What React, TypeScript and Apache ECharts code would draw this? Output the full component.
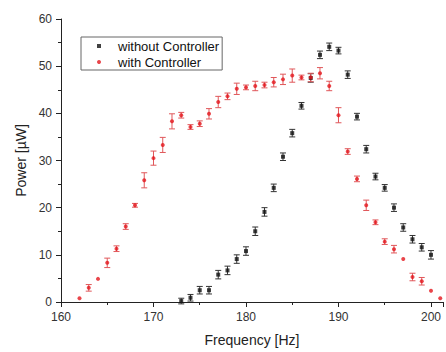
import React, { useEffect, useRef } from "react";
import * as echarts from "echarts";

const freqBlack = [173, 174, 175, 176, 177, 178, 179, 180, 181, 182, 183, 184, 185, 186, 187, 188, 189, 190, 191, 192, 193, 194, 195, 196, 197, 198, 199, 200];
const powerBlack = [0.2, 0.9, 2.5, 2.5, 5.8, 6.7, 9.1, 10.8, 15.0, 19.1, 24.2, 30.8, 35.8, 41.6, 47.5, 52.4, 54.1, 53.3, 48.2, 39.3, 32.4, 26.6, 24.2, 20.0, 15.8, 13.3, 11.6, 10.0];
const errBlack = [0.6, 0.7, 0.8, 0.8, 0.9, 0.9, 0.9, 0.9, 0.9, 0.9, 0.8, 0.8, 0.8, 0.7, 0.9, 0.8, 0.8, 0.7, 0.8, 0.7, 0.8, 0.7, 0.7, 0.8, 0.8, 0.8, 0.8, 0.9];

const freqRed = [162, 163, 164, 165, 166, 167, 168, 169, 170, 171, 172, 173, 174, 175, 176, 177, 178, 179, 180, 181, 182, 183, 184, 185, 186, 187, 188, 189, 190, 191, 192, 193, 194, 195, 196, 197, 198, 199, 200, 201];
const powerRed = [0.8, 3.0, 4.9, 8.3, 11.3, 16.0, 20.5, 25.8, 30.5, 33.3, 38.3, 39.6, 37.1, 37.8, 39.9, 42.4, 43.6, 45.2, 45.5, 45.8, 46.0, 46.6, 47.2, 48.0, 47.6, 47.6, 48.5, 45.8, 39.6, 31.9, 26.1, 20.5, 16.9, 12.8, 11.2, 9.1, 5.3, 4.4, 2.4, 0.8];
const errRed = [0, 0.7, 0, 1.0, 0.6, 0.6, 0.4, 1.6, 1.5, 1.6, 1.6, 0.6, 0.5, 0.6, 1.1, 1.2, 0.7, 1.2, 0.5, 1.0, 0.6, 1.0, 1.1, 1.4, 0.5, 0.9, 1.2, 1.0, 1.6, 0.6, 0.6, 1.1, 0.5, 0.6, 0.8, 0, 0.8, 0.8, 0, 0];

const xTicks = [160, 170, 180, 190, 200];

const FONT = "Liberation Sans, Arial, sans-serif";

function errData(xs: number[], ys: number[], es: number[]) {
  return xs.map((x, i) => [x, ys[i] - es[i], ys[i] + es[i]]);
}

function errRender(color: string) {
  return (params: any, api: any) => {
    const x = api.value(0);
    const lo = api.value(1);
    const hi = api.value(2);
    if (hi - lo <= 0) return null;
    const p1 = api.coord([x, lo]);
    const p2 = api.coord([x, hi]);
    const w = 3;
    const style = { stroke: color, lineWidth: 1 };
    return {
      type: "group",
      children: [
        { type: "line", shape: { x1: p1[0], y1: p1[1], x2: p2[0], y2: p2[1] }, style },
        { type: "line", shape: { x1: p1[0] - w, y1: p1[1], x2: p1[0] + w, y2: p1[1] }, style },
        { type: "line", shape: { x1: p2[0] - w, y1: p2[1], x2: p2[0] + w, y2: p2[1] }, style },
      ],
    };
  };
}

export default function App() {
  const ref = useRef<HTMLDivElement>(null);
  useEffect(() => {
    if (!ref.current) return;
    const chart = echarts.init(ref.current, null, { renderer: "svg" });
    chart.setOption({
      animation: false,
      backgroundColor: "#ffffff",
      grid: { left: 61, right: 0, top: 19, bottom: 45 },
      legend: {
        orient: "vertical",
        left: 81,
        top: 37,
        data: ["without Controller", "with Controller"],
        borderColor: "#666",
        borderWidth: 1,
        padding: [2, 3, 1, 16],
        itemGap: 2,
        itemWidth: 4,
        itemHeight: 4,
        textStyle: { fontFamily: FONT, fontSize: 13, color: "#111", lineHeight: 14, padding: [0, 0, 0, 12] },
      },
      xAxis: {
        type: "value",
        min: 160,
        max: 201.3,
        interval: 10,
        name: "Frequency [Hz]",
        nameLocation: "middle",
        nameGap: 31,
        nameTextStyle: { fontFamily: FONT, fontSize: 14, color: "#222" },
        axisLine: { show: true, onZero: false, lineStyle: { color: "#222", width: 1 } },
        axisTick: { show: true, inside: false, length: 5, lineStyle: { color: "#222" } },
        minorTick: { show: true, splitNumber: 2, length: 3, lineStyle: { color: "#222" } },
        splitLine: { show: false },
        axisLabel: {
          fontFamily: FONT,
          fontSize: 12,
          color: "#333",
          margin: 9,
          formatter: (v: number) => (xTicks.indexOf(v) >= 0 ? String(v) : ""),
        },
      },
      yAxis: {
        type: "value",
        min: 0,
        max: 60,
        interval: 10,
        name: "Power [µW]",
        nameLocation: "middle",
        nameGap: 29,
        nameTextStyle: { fontFamily: FONT, fontSize: 14, color: "#222" },
        axisLine: { show: true, lineStyle: { color: "#222", width: 1 } },
        axisTick: { show: true, inside: false, length: 5, lineStyle: { color: "#222" } },
        minorTick: { show: true, splitNumber: 2, length: 3, lineStyle: { color: "#222" } },
        splitLine: { show: false },
        axisLabel: { fontFamily: FONT, fontSize: 12, color: "#333", margin: 9 },
      },
      series: [
        {
          name: "without Controller",
          type: "scatter",
          symbol: "rect",
          symbolSize: 4,
          itemStyle: { color: "#111" },
          data: freqBlack.map((x, i) => [x, powerBlack[i]]),
          z: 3,
        },
        {
          name: "with Controller",
          type: "scatter",
          symbol: "circle",
          symbolSize: 4,
          itemStyle: { color: "#e3161d" },
          data: freqRed.map((x, i) => [x, powerRed[i]]),
          z: 3,
        },
        {
          name: "errBlack",
          type: "custom",
          renderItem: errRender("#333"),
          data: errData(freqBlack, powerBlack, errBlack),
          encode: { x: 0, y: [1, 2] },
          z: 2,
          silent: true,
        },
        {
          name: "errRed",
          type: "custom",
          renderItem: errRender("#e0575a"),
          data: errData(freqRed, powerRed, errRed),
          encode: { x: 0, y: [1, 2] },
          z: 2,
          silent: true,
        },
      ],
    });
    return () => chart.dispose();
  }, []);
  return (
    <div
      ref={ref}
      style={{ position: "fixed", left: 0, top: 0, width: 446, height: 352, background: "#fff" }}
    />
  );
}
